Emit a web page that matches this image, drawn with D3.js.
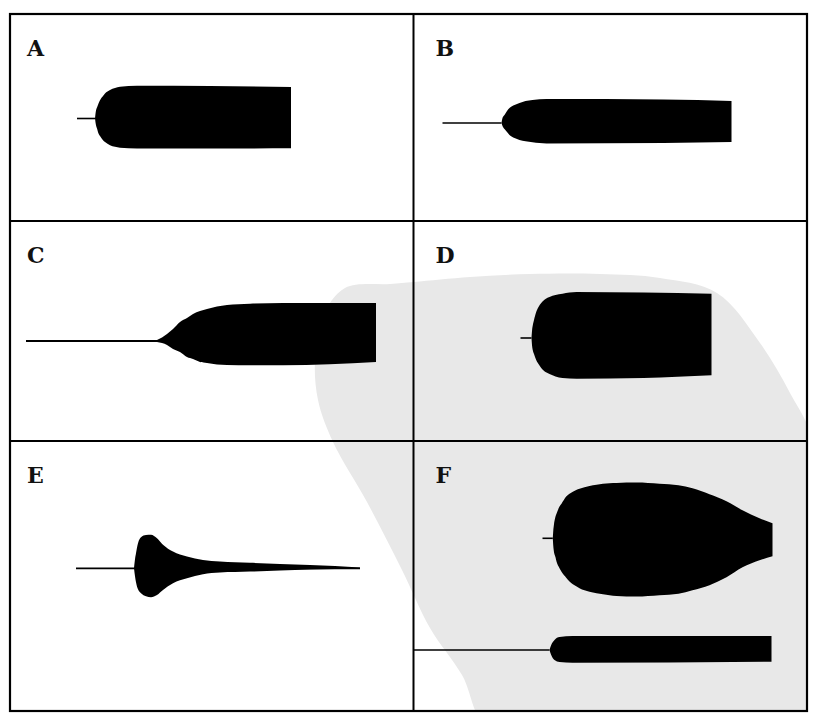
<!DOCTYPE html>
<html>
<head>
<meta charset="utf-8">
<script src="https://cdn.jsdelivr.net/npm/d3@7"></script>
<style>
  html, body { margin: 0; padding: 0; background: #fff; }
  svg { display: block; }
</style>
</head>
<body>
<svg width="814" height="720"></svg>
<script>
// panel letters
const labels = ['A', 'B', 'C', 'D', 'E', 'F'];

// amplitude envelopes: [time, upper amplitude, lower amplitude]
// time runs 0..400 across a panel, amplitude in the same units
const envA = [[85, 0, 0], [86, 8, 6.7], [87, 11, 10], [88.5, 15, 15], [90, 18.3, 17.5], [93, 22.5, 21.7],
  [95, 25, 23.5], [100, 28.5, 26.7], [105, 30.5, 28.3], [110, 31.7, 29.3], [127, 32.7, 30],
  [200, 32.5, 30], [281, 31.5, 29.7]];
const envB = [[88, 0, 0], [89, 5, 3], [91, 8, 6], [93.5, 12, 9], [96, 15, 12], [101, 18, 15],
  [106, 20, 17], [112, 22, 18.3], [119, 23, 19.3], [133, 24, 20.5], [250, 23.5, 20], [318, 22, 19]];
const envC = [[147, 1, 1], [152, 3.5, 2], [157, 7, 4], [163, 12, 8], [170, 19, 11], [177, 23, 16],
  [183, 27, 18], [190, 30, 21], [197, 32, 22], [207, 34.5, 23.5], [217, 36, 24], [240, 37.3, 24.3],
  [273, 38, 24.3], [366, 38, 21]];
const envD = [[118, 0, 0], [118.6, 8, 8], [119.3, 12.7, 12.3], [120.5, 18, 16], [122.7, 26, 22],
  [125, 31, 26], [127.7, 35, 30], [132, 39, 34], [136, 41, 36], [142, 43, 38.5], [149, 44.3, 40],
  [163, 46, 40.7], [230, 45.5, 40], [298, 44.3, 37.3]];
const envE = [[124, 0, 0], [125, 9, 8], [126, 15, 14], [128, 25, 21], [131, 31, 25], [136, 33.3, 28],
  [141, 33.5, 29], [147, 30, 26.7], [153, 23.5, 21.7], [163, 16.7, 15], [177, 11.7, 10],
  [193, 8.3, 6], [210, 6.7, 4.3], [240, 5.5, 3.3], [270, 4.3, 2.2], [300, 3.3, 1.3],
  [325, 2.4, 0.8], [350, 0.8, 0.8]];
const envF = [[139.3, 0, 0], [139.8, 8, 8], [140.3, 12.5, 12.5], [142, 21.7, 19], [143, 24.5, 23.3],
  [146, 31.7, 30], [148, 34.5, 33.5], [152.7, 41.7, 39.5], [156, 44.5, 43.3], [162.7, 48.3, 48],
  [166, 49.5, 50], [176, 52.3, 53.5], [183, 53.5, 55], [196, 55, 57], [203, 55.3, 57.7],
  [223, 55.7, 58.3], [246, 54.5, 57], [265, 53, 55.5], [279, 50, 52], [296, 44, 47],
  [313, 37, 39], [329, 28, 29], [346, 20, 22], [359, 15, 18]];
const envF2 = [[136, 0, 0], [137.7, 5, 5], [141, 10, 10], [146, 13, 12], [159, 14, 12.7], [358, 14, 11.7]];

// thin lead-in lines: [start, end] in time units
const leadA = [67, 85];
const leadB = [29, 88];
const leadC = [16, 147];
const leadD = [107, 118];
const leadE = [66, 350];
const leadF = [129, 139.3];
const leadF2 = [0, 136];

const svg = d3.select('svg');

// grid of the figure
const colX = [10, 413.5, 807];
const rowY = [14, 221, 441, 711];

// which panel each trace sits in, and where its baseline falls below the panel top
const traces = [
  { panel: 0, env: envA, lead: leadA, base: 104.5, lw: 1.6 },
  { panel: 1, env: envB, lead: leadB, base: 109, lw: 1.6 },
  { panel: 2, env: envC, lead: leadC, base: 120, lw: 2 },
  { panel: 3, env: envD, lead: leadD, base: 117, lw: 1.6 },
  { panel: 4, env: envE, lead: leadE, base: 127.3, lw: 1.8 },
  { panel: 5, env: envF, lead: leadF, base: 97.3, lw: 1.6 },
  { panel: 5, env: envF2, lead: leadF2, base: 209, lw: 1.4 }
];

// faint stain of the scanned page (background only)
const stain = [[345, 288], [390, 284], [414, 282], [470, 277], [530, 274], [600, 274], [660, 278],
  [717, 293], [760, 343], [790, 393], [812, 440], [812, 600], [812, 730], [640, 730], [490, 730],
  [462, 675], [430, 628], [402, 570], [367, 502], [333, 442], [318, 400], [315, 360], [322, 318]];

svg.append('clipPath')
  .attr('id', 'frame-clip')
  .append('rect')
  .attr('x', colX[0]).attr('y', rowY[0])
  .attr('width', colX[2] - colX[0]).attr('height', rowY[3] - rowY[0]);

svg.append('path')
  .attr('d', d3.line().curve(d3.curveCatmullRomClosed.alpha(0.5))(stain))
  .attr('clip-path', 'url(#frame-clip)')
  .attr('fill', '#e8e8e8');

const panelBox = i => {
  const c = i % 2, r = Math.floor(i / 2);
  return { x0: colX[c], x1: colX[c + 1], y0: rowY[r], y1: rowY[r + 1], col: c };
};

traces.forEach(tr => {
  const box = panelBox(tr.panel);
  const x = d3.scaleLinear().domain([0, 400]).range([box.x0, box.x0 + 400]);
  const y = d3.scaleLinear().domain([-100, 100])
    .range([box.y0 + tr.base + 100, box.y0 + tr.base - 100]);

  // lead line
  svg.append('path')
    .attr('d', d3.line().x(d => x(d)).y(() => y(0))(tr.lead))
    .attr('stroke', '#000')
    .attr('stroke-width', tr.lw)
    .attr('fill', 'none');

  // envelope
  const area = d3.area()
    .x(d => x(d[0]))
    .y0(d => y(-d[2]))
    .y1(d => y(d[1]))
    .curve(d3.curveMonotoneX);

  svg.append('path')
    .datum(tr.env)
    .attr('d', area)
    .attr('fill', '#000');
});

// frame and dividers
svg.append('rect')
  .attr('x', colX[0]).attr('y', rowY[0])
  .attr('width', colX[2] - colX[0]).attr('height', rowY[3] - rowY[0])
  .attr('fill', 'none').attr('stroke', '#000').attr('stroke-width', 2.2);

svg.append('line')
  .attr('x1', colX[1]).attr('x2', colX[1]).attr('y1', rowY[0]).attr('y2', rowY[3])
  .attr('stroke', '#000').attr('stroke-width', 2);

svg.selectAll('line.row')
  .data(rowY.slice(1, 3))
  .enter()
  .append('line')
  .attr('class', 'row')
  .attr('x1', colX[0]).attr('x2', colX[2])
  .attr('y1', d => d).attr('y2', d => d)
  .attr('stroke', '#000').attr('stroke-width', 2);

// panel letters
svg.selectAll('text.label')
  .data(labels)
  .enter()
  .append('text')
  .attr('class', 'label')
  .attr('x', (d, i) => panelBox(i).x0 + (panelBox(i).col === 0 ? 17 : 22))
  .attr('y', (d, i) => panelBox(i).y0 + 42)
  .attr('font-family', '"DejaVu Serif", "Liberation Serif", serif')
  .attr('font-weight', 'bold')
  .attr('font-size', 22)
  .attr('fill', '#111')
  .text(d => d);
</script>
</body>
</html>
